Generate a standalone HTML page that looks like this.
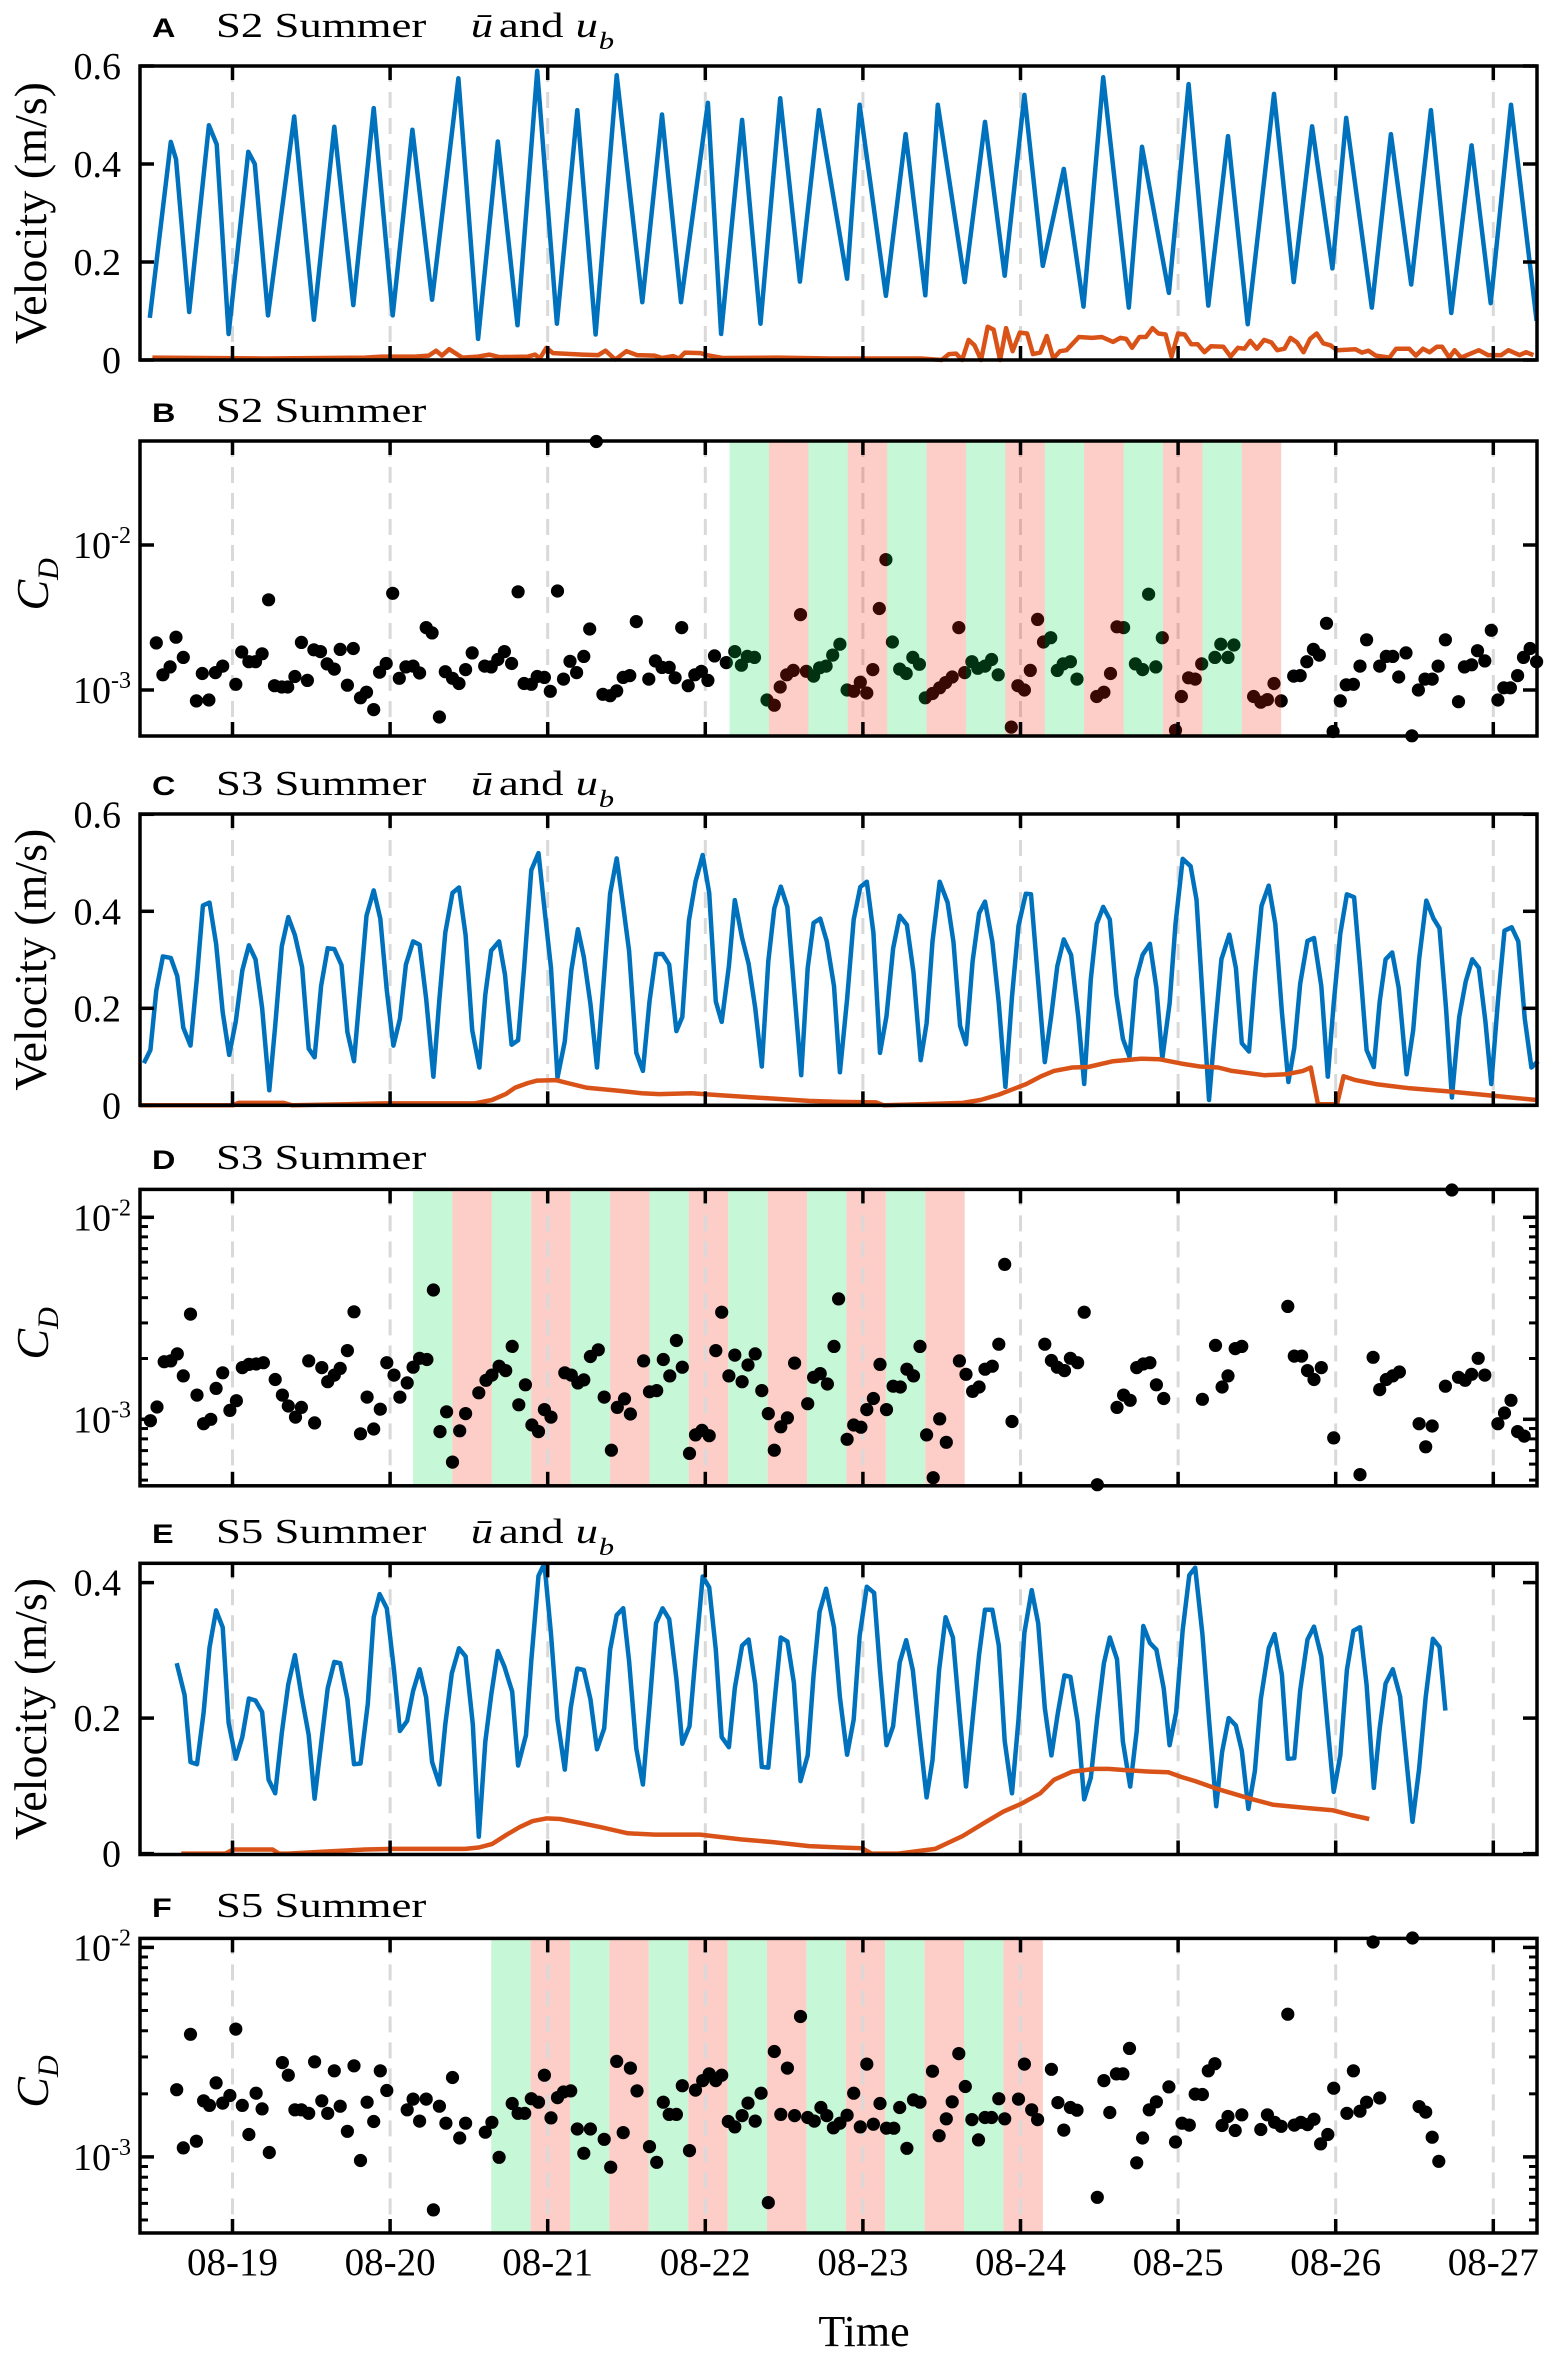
<!DOCTYPE html>
<html><head><meta charset="utf-8"><style>
html,body{margin:0;padding:0;background:#fff;}
svg{display:block;}
</style></head><body>
<svg id="fig" xmlns="http://www.w3.org/2000/svg" width="1546" height="2356" viewBox="0 0 1546 2356" font-family="'Liberation Serif', serif">
<rect x="0" y="0" width="1546" height="2356" fill="#fff"/>
<g id="layer"></g>
</svg>
<script>
// ---------- Panel A: S2 velocities (hours since 08-18 00:00) ----------
const aHours=[11.4,14.6,15.4,17.4,20.4,21.6,23.4,26.4,27.4,29.4,33.4,36.4,39.5,42.4,45.5,48.4,51.4,54.4,58.4,61.4,64.4,67.4,70.4,73.4,76.5,79.3,82.5,86.4,89.4,92.3,96.4,98.4,101.6,104.4,107.4,110.4,113.3,117.6,119.5,123.5,126.5,129.5,131.4,135.5,138.6,141.6,144.6,147.4,150.6,153.6,156.6,160.5,162.5,166.6,169.6,172.6,175.6,178.6,182.6,185.6,188.4,191.5,193.6,197.5,200.4,203.5,206.5,209.6,212.7,215.6,218.7,222.6];
const aSpeed=[.086,.445,.41,.098,.479,.44,.053,.425,.40,.091,.497,.082,.476,.112,.514,.091,.47,.123,.575,.043,.446,.071,.59,.074,.51,.052,.581,.118,.501,.118,.525,.053,.49,.074,.534,.16,.51,.166,.521,.131,.461,.132,.521,.159,.486,.172,.541,.192,.39,.109,.577,.107,.435,.137,.563,.111,.457,.073,.543,.159,.477,.187,.494,.107,.461,.154,.51,.096,.438,.116,.521,.08];
const aUbHours=[11.8,29,44.2,47,51.8,53.9,55,55.9,57,59,61.4,63.1,64.6,69,70.1,70.8,71.8,72.8,77.3,79.7,80.8,82.3,84,85.6,88.3,89.4,91.1,92,92.9,95.3,96.2,98.6,107,115.2,128.9,132,133.1,134.2,135.1,136.1,137,138,139,139.9,140.9,141.8,142.8,143.9,145,145.9,147,148,149,150,151,152.9,154.9,156.4,158.1,159.2,160.1,161,162.1,163.1,164.1,165,166.1,167,168,169,170,171,172,173,174.9,176,177.1,178.1,179,180,181.1,182.2,183.1,184.2,185.1,186.1,187.1,188.1,189.1,190.1,191.2,192.2,195,196,197,198.1,200.2,201.2,203.2,204.2,205.3,206.3,207.4,208.2,209.3,210.1,211.1,213.8,215.2,217.2,218.3,220,221,222.1];
const aUb=[.005,.003,.005,.007,.007,.009,.019,.009,.022,.005,.007,.011,.006,.007,.011,.003,.025,.014,.011,.01,.019,.001,.018,.01,.009,.004,.008,.003,.015,.014,.01,.004,.005,.003,.003,0,.012,.013,0,.041,.03,0,.068,.062,0,.065,.018,.056,.054,.012,.015,.049,.003,.018,.02,.047,.045,.047,.037,.045,.043,.025,.047,.047,.065,.054,.052,.007,.054,.052,.032,.032,.016,.028,.027,.007,.025,.023,.039,.023,.041,.036,.02,.023,.045,.036,.016,.043,.054,.034,.03,.02,.022,.015,.019,.009,.005,.023,.023,.009,.023,.016,.027,.027,.005,.02,.005,.02,.01,.01,.02,.01,.016,.01];
// ---------- Panel B: S2 drag coefficient, log10(CD) ----------
const bHours=[12.4,13.4,14.5,15.4,16.5,18.5,19.4,20.4,21.4,22.5,24.5,25.4,26.5,27.5,28.5,29.5,30.4,31.5,32.4,33.5,34.5,35.4,36.4,37.4,38.4,39.5,40.4,41.5,42.4,43.5,44.4,45.5,46.4,47.4,48.4,49.4,50.4,51.5,52.5,53.5,54.4,55.5,56.4,57.5,58.5,59.5,60.5,62.4,63.4,64.4,65.4,66.5,67.5,68.4,69.5,70.4,71.5,72.4,73.5,74.4,75.4,76.4,77.5,78.4,79.4,80.4,81.5,82.5,83.5,84.5,85.5,87.4,88.4,89.4,90.5,91.4,92.4,93.4,94.4,95.4,96.4,97.4,99.2,100.5,101.5,102.4,103.5,105.4,106.5,107.4,108.4,109.4,110.5,111.4,112.5,113.4,114.4,115.4,116.5,117.6,118.6,119.6,120.6,121.5,122.5,123.5,124.5,125.6,126.6,127.6,128.6,129.5,130.6,131.7,132.6,133.6,134.6,135.5,136.6,137.5,138.6,139.6,140.6,142.6,143.6,144.6,145.5,146.6,147.5,148.6,149.6,150.5,151.6,152.6,155.6,156.7,157.7,158.7,159.7,161.5,162.6,163.5,164.6,165.6,167.6,168.5,169.6,170.6,171.6,173.6,174.5,175.6,176.5,179.5,180.6,181.6,182.6,183.7,185.6,186.6,187.6,188.6,189.5,190.6,191.6,192.7,193.6,194.7,195.7,196.7,198.7,199.7,200.7,201.6,202.7,203.6,204.6,205.6,206.7,207.6,208.7,210.7,211.6,212.7,213.6,214.7,215.7,216.7,217.6,218.6,219.7,220.6,221.6,222.6];
const bCdLog=[-2.675,-2.895,-2.841,-2.636,-2.775,-3.075,-2.886,-3.069,-2.88,-2.835,-2.961,-2.738,-2.805,-2.805,-2.75,-2.378,-2.97,-2.979,-2.979,-2.907,-2.672,-2.934,-2.723,-2.735,-2.82,-2.856,-2.72,-2.967,-2.714,-3.054,-3.015,-3.135,-2.877,-2.817,-2.333,-2.919,-2.841,-2.835,-2.883,-2.57,-2.606,-3.186,-2.874,-2.919,-2.955,-2.859,-2.744,-2.835,-2.841,-2.79,-2.735,-2.817,-2.323,-2.955,-2.961,-2.907,-2.913,-3.009,-2.317,-2.925,-2.802,-2.88,-2.768,-2.579,-1.286,-3.03,-3.039,-3.006,-2.913,-2.901,-2.528,-2.925,-2.799,-2.844,-2.844,-2.916,-2.57,-2.97,-2.895,-2.871,-2.934,-2.765,-2.811,-2.735,-2.829,-2.768,-2.775,-3.069,-3.105,-2.979,-2.895,-2.865,-2.48,-2.871,-2.904,-2.847,-2.835,-2.759,-2.684,-3.0,-3.009,-2.946,-3.021,-2.859,-2.438,-2.101,-2.669,-2.856,-2.886,-2.775,-2.823,-3.054,-3.024,-2.985,-2.949,-2.91,-2.57,-2.88,-2.805,-2.85,-2.835,-2.79,-2.895,-3.256,-2.97,-3.0,-2.865,-2.513,-2.669,-2.639,-2.865,-2.82,-2.805,-2.925,-3.045,-3.015,-2.886,-2.564,-2.57,-2.82,-2.859,-2.339,-2.841,-2.639,-3.277,-3.045,-2.916,-2.925,-2.82,-2.775,-2.684,-2.775,-2.69,-3.045,-3.084,-3.066,-2.955,-3.075,-2.904,-2.901,-2.805,-2.72,-2.759,-2.54,-3.286,-3.075,-2.964,-2.961,-2.835,-2.654,-2.835,-2.768,-2.768,-2.91,-2.744,-3.316,-3.0,-2.925,-2.925,-2.835,-2.654,-3.081,-2.841,-2.826,-2.729,-2.799,-2.588,-3.069,-2.985,-2.985,-2.901,-2.775,-2.714,-2.805];
const bBandStart=99.7;
// ---------- Panel C: S3 velocities ----------
const cHours=[10.5,11.5,12.4,13.4,14.6,15.6,16.5,17.6,18.6,19.5,20.5,21.5,22.5,23.5,24.5,25.5,26.5,27.5,28.5,29.6,30.5,31.5,32.5,33.5,34.6,35.6,36.5,37.5,38.5,39.5,40.6,41.5,42.5,43.5,44.4,45.5,46.5,47.5,48.5,49.5,50.4,51.5,52.5,53.5,54.6,55.5,56.4,57.5,58.5,59.5,60.5,61.6,62.5,63.4,64.6,65.5,66.5,67.5,68.4,69.5,70.6,71.5,72.5,73.5,74.6,75.6,76.6,77.5,78.5,79.5,80.5,81.5,82.5,83.5,84.4,85.5,86.5,87.5,88.5,89.5,90.5,91.6,92.5,93.5,94.5,95.6,96.6,97.6,98.5,99.6,100.5,101.6,102.6,103.6,104.6,105.6,106.5,107.5,108.5,109.6,110.6,111.6,112.5,113.5,114.5,115.6,116.5,117.6,118.6,119.6,120.6,121.6,122.6,123.6,124.6,125.6,126.7,127.7,128.8,129.7,130.6,131.7,132.9,133.8,134.8,135.7,136.7,137.7,138.6,139.7,140.7,141.7,142.7,143.7,144.8,145.6,146.6,147.7,148.7,149.6,150.6,151.7,152.8,153.7,154.7,155.6,156.6,157.6,158.6,159.6,160.6,161.6,162.6,163.7,164.7,165.6,166.7,167.6,168.7,169.9,170.8,171.7,172.7,173.6,174.6,175.8,176.8,177.7,178.8,179.7,180.7,181.8,182.8,183.8,184.8,185.7,186.6,187.7,188.7,189.8,190.8,191.7,192.7,193.7,194.8,195.7,196.7,197.8,198.7,199.6,200.6,201.6,202.8,203.8,204.7,205.8,206.9,207.8,208.8,209.7,210.8,211.8,212.8,213.8,214.8,215.7,216.7,217.7,218.8,219.8,220.8,221.8,222.8];
const cSpeed=[.087,.114,.237,.307,.304,.266,.16,.123,.265,.412,.418,.333,.192,.104,.173,.278,.33,.301,.201,.031,.164,.328,.388,.351,.285,.117,.099,.246,.324,.322,.289,.151,.091,.246,.391,.443,.385,.237,.123,.178,.29,.338,.331,.219,.059,.219,.356,.438,.449,.351,.155,.078,.228,.319,.338,.269,.125,.134,.283,.485,.52,.406,.283,.057,.132,.278,.363,.306,.21,.078,.251,.436,.509,.411,.318,.108,.071,.214,.312,.312,.29,.153,.182,.381,.461,.516,.438,.214,.172,.287,.423,.345,.292,.201,.08,.297,.406,.451,.409,.228,.062,.283,.376,.385,.338,.246,.068,.219,.383,.45,.461,.356,.108,.184,.323,.391,.372,.274,.093,.169,.338,.461,.418,.336,.164,.126,.297,.396,.42,.338,.21,.038,.224,.37,.436,.435,.269,.089,.187,.287,.342,.31,.182,.044,.26,.374,.409,.383,.228,.137,.1,.26,.31,.333,.242,.096,.21,.374,.508,.493,.424,.228,.011,.155,.301,.352,.283,.128,.111,.265,.411,.453,.374,.192,.048,.119,.251,.339,.345,.246,.059,.21,.354,.435,.429,.287,.114,.079,.214,.301,.315,.242,.064,.155,.301,.422,.385,.365,.201,.016,.182,.255,.301,.283,.173,.044,.214,.36,.367,.338,.178,.078,.091];
const cUbHours=[9.8,24.1,24.9,31.8,33.1,41.5,47,60.8,63.5,65.6,67,69,70.4,73.2,75.3,78,82.8,86.3,89,93.9,98,104.9,111.8,116.5,122,123.2,128.9,135.2,137.9,140.7,144.9,147,149.1,151.9,154.3,158.1,162.3,165.1,168.5,171.3,174.1,176.2,181.1,184.5,187,188.2,189.3,192.2,193.2,195,198.4,203.3,208.9,215.8,222.6];
const cUb=[0,0,.005,.005,0,.002,.004,.004,.011,.023,.036,.046,.051,.052,.045,.036,.03,.025,.023,.025,.021,.015,.009,.007,.006,0,.002,.005,.011,.022,.044,.059,.071,.078,.079,.091,.096,.095,.086,.08,.078,.071,.062,.064,.071,.078,.002,.002,.06,.052,.043,.035,.029,.02,.011];
// ---------- Panel D: S3 drag coefficient ----------
const dHours=[11.5,12.5,13.6,14.6,15.6,16.5,17.6,18.6,19.6,20.7,21.5,22.5,23.6,24.6,25.5,26.5,27.6,28.7,30.5,31.6,32.5,33.6,34.5,35.6,36.5,37.6,38.5,39.5,40.4,41.5,42.5,43.5,44.5,45.5,46.5,47.5,48.6,49.5,50.6,51.5,52.5,53.6,54.6,55.6,56.6,57.5,58.6,59.5,61.5,62.6,63.5,64.6,65.6,66.6,67.6,68.6,69.6,70.6,71.5,72.5,74.6,75.6,76.6,77.5,78.5,79.7,80.6,81.7,82.6,83.7,84.6,86.6,87.5,88.6,89.6,90.6,91.6,92.5,93.6,94.5,95.5,96.6,97.6,98.5,99.6,100.5,101.6,102.5,103.6,104.6,105.6,106.5,107.5,108.5,109.6,111.6,112.5,113.5,114.6,115.6,116.3,117.6,118.6,119.7,120.6,121.6,122.6,123.6,124.6,125.7,126.7,127.7,128.7,129.7,130.7,131.7,132.7,134.7,135.7,136.7,137.7,138.6,139.7,140.7,141.6,142.7,147.7,148.7,149.6,150.7,151.6,152.7,153.7,155.7,158.7,159.7,160.7,161.7,162.7,163.7,164.7,165.8,171.7,173.7,174.7,175.6,176.7,177.7,184.7,185.7,186.8,187.7,188.7,189.8,191.7,195.7,197.7,198.7,199.7,200.7,201.7,204.7,205.7,206.7,208.7,209.7,210.7,211.7,212.7,213.7,214.7,216.7,217.7,218.7,219.7,220.7];
const dCdLog=[-3.007,-2.939,-2.715,-2.711,-2.676,-2.785,-2.479,-2.88,-3.022,-3.0,-2.847,-2.77,-2.956,-2.908,-2.744,-2.728,-2.726,-2.72,-2.803,-2.88,-2.934,-2.989,-2.941,-2.711,-3.018,-2.744,-2.814,-2.781,-2.748,-2.66,-2.468,-3.072,-2.89,-3.048,-2.95,-2.72,-2.781,-2.89,-2.82,-2.742,-2.698,-2.704,-2.36,-3.061,-2.963,-3.212,-3.057,-2.972,-2.869,-2.807,-2.781,-2.737,-2.759,-2.639,-2.928,-2.829,-3.028,-3.061,-2.952,-2.989,-2.77,-2.781,-2.82,-2.805,-2.689,-2.656,-2.89,-3.153,-2.941,-2.899,-2.974,-2.711,-2.864,-2.858,-2.704,-2.785,-2.61,-2.742,-3.169,-3.077,-3.055,-3.081,-2.66,-2.47,-2.785,-2.682,-2.814,-2.731,-2.676,-2.858,-2.972,-3.153,-3.037,-2.993,-2.722,-2.923,-2.792,-2.774,-2.825,-2.639,-2.404,-3.099,-3.028,-3.039,-2.952,-2.897,-2.728,-2.952,-2.836,-2.84,-2.752,-2.785,-2.639,-3.077,-3.289,-2.998,-3.114,-2.711,-2.777,-2.862,-2.84,-2.752,-2.737,-2.628,-2.233,-3.011,-2.628,-2.709,-2.742,-2.759,-2.698,-2.72,-2.47,-3.324,-2.941,-2.88,-2.906,-2.744,-2.726,-2.72,-2.829,-2.897,-2.901,-2.634,-2.84,-2.785,-2.65,-2.639,-2.441,-2.687,-2.687,-2.759,-2.803,-2.744,-3.092,-3.274,-2.693,-2.853,-2.803,-2.785,-2.766,-3.022,-3.136,-3.033,-2.836,-1.865,-2.792,-2.807,-2.777,-2.698,-2.781,-3.022,-2.969,-2.906,-3.061,-3.083];
const dBandStart=51.5;
// ---------- Panel E: S5 velocities ----------
const eHours=[15.5,16.7,17.6,18.6,19.6,20.5,21.5,22.5,23.4,24.5,25.5,26.5,27.5,28.5,29.5,30.5,31.5,32.5,33.5,34.5,35.6,36.5,37.5,38.5,39.5,40.4,41.5,42.5,43.5,44.6,45.5,46.4,47.5,48.6,49.5,50.6,51.5,52.5,53.5,54.4,55.5,56.4,57.4,58.5,59.5,60.6,61.5,62.5,63.4,64.4,65.4,66.6,67.5,68.7,69.5,70.6,71.5,72.5,73.5,74.6,75.5,76.5,77.5,78.5,79.5,80.6,81.5,82.5,83.5,84.4,85.5,86.5,87.5,88.5,89.5,90.5,91.6,92.5,93.6,94.5,95.6,96.6,97.6,98.5,99.6,100.5,101.6,102.6,103.6,104.6,105.6,106.5,107.5,108.5,109.5,110.5,111.6,112.5,113.4,114.4,115.6,116.5,117.6,118.6,119.5,120.6,121.7,122.6,123.6,124.6,125.6,126.6,127.6,128.6,129.7,130.6,131.6,132.6,133.7,134.7,135.7,136.7,137.7,138.6,139.7,140.7,141.6,142.7,143.7,144.6,145.7,146.7,147.7,148.7,149.7,150.7,151.6,152.7,153.7,154.7,155.7,156.7,157.6,158.7,159.6,160.7,161.7,162.7,163.7,164.7,165.8,166.7,167.7,168.7,169.7,170.6,171.7,172.7,173.8,174.7,175.7,176.8,177.7,178.7,179.7,180.6,181.8,182.7,183.8,184.7,185.7,186.6,187.7,188.7,189.8,190.8,191.7,192.7,193.7,194.7,195.7,196.7,197.8,198.7,199.6,200.7,201.8,202.8,203.7,204.7,205.7,206.8,207.8,208.7];
const eSpeed=[.281,.234,.135,.132,.208,.304,.359,.334,.193,.14,.172,.229,.226,.209,.109,.089,.178,.25,.293,.234,.175,.081,.162,.244,.283,.281,.228,.132,.133,.221,.349,.383,.362,.271,.181,.196,.24,.272,.23,.135,.102,.191,.266,.303,.291,.191,.025,.165,.234,.299,.276,.239,.13,.175,.285,.41,.428,.324,.198,.124,.215,.273,.271,.228,.154,.185,.301,.352,.362,.284,.155,.102,.218,.34,.362,.346,.258,.162,.188,.291,.409,.393,.301,.172,.157,.244,.307,.316,.25,.128,.127,.221,.319,.313,.252,.107,.145,.264,.357,.391,.334,.231,.146,.198,.321,.394,.385,.271,.16,.188,.282,.315,.271,.178,.083,.138,.271,.349,.319,.208,.099,.198,.294,.36,.36,.307,.166,.089,.198,.326,.389,.34,.215,.145,.208,.263,.261,.195,.08,.112,.201,.281,.319,.287,.165,.099,.181,.336,.311,.301,.244,.16,.208,.33,.411,.422,.324,.198,.07,.15,.2,.189,.152,.066,.122,.228,.303,.324,.264,.14,.141,.241,.316,.335,.291,.185,.091,.145,.271,.329,.334,.249,.097,.185,.251,.272,.232,.135,.047,.125,.231,.317,.305,.211];
const eUbHours=[16.2,22.9,24.1,30.1,31.1,32.5,38,44.2,48.4,52.5,59.4,61.5,63.5,65.6,67.7,69.7,71.8,73.9,76.6,80.1,84.2,88.3,91.1,95.2,101.4,106.3,111.8,116.5,119.9,121.3,125.4,131,135.2,138.6,141.4,144.2,147,149.1,151.9,155.3,157.4,160.2,163.7,166.5,168.5,170.6,174.1,179,182.5,188,191.5,194.3,197.1];
const eUb=[0,0,.006,.006,0,0,.003,.006,.007,.007,.007,.009,.014,.027,.039,.048,.052,.051,.046,.039,.03,.028,.028,.028,.021,.017,.011,.009,.008,0,0,.007,.026,.046,.062,.074,.089,.109,.121,.125,.125,.123,.121,.12,.113,.107,.095,.081,.072,.067,.064,.057,.051];
// ---------- Panel F: S5 drag coefficient ----------
const fHours=[15.5,16.5,17.6,18.5,19.6,20.5,21.5,22.5,23.6,24.5,25.5,26.5,27.6,28.5,29.6,31.6,32.5,33.5,34.5,35.6,36.5,37.6,38.5,39.5,40.4,41.5,42.5,43.5,44.5,45.5,46.5,47.5,50.6,51.5,52.5,53.5,54.6,55.5,56.5,57.5,58.6,59.5,62.5,63.5,64.6,66.6,67.5,68.5,69.5,70.6,71.5,72.5,73.5,74.4,75.5,76.5,77.5,78.5,80.6,81.6,82.5,83.5,84.6,85.6,87.5,88.6,89.6,90.5,91.6,92.5,93.6,94.5,95.6,96.6,97.6,98.5,99.5,100.5,101.6,102.5,103.6,104.5,105.6,106.5,107.5,108.5,109.6,110.5,111.6,112.6,113.6,114.5,115.5,116.5,117.6,118.6,119.6,120.6,121.6,122.6,123.6,124.7,125.6,126.7,127.7,128.7,130.6,131.6,132.7,133.6,134.6,135.6,136.6,137.6,138.6,139.6,140.7,141.6,143.7,144.6,145.7,146.6,148.7,149.7,150.6,151.6,152.6,155.7,156.7,157.6,158.6,159.6,160.6,161.7,162.6,163.6,164.7,166.6,167.6,168.6,169.7,170.6,171.7,172.6,173.6,174.7,175.6,176.7,177.7,180.6,181.6,182.7,183.7,184.7,185.7,186.7,187.7,188.7,189.7,190.8,191.7,193.7,194.7,195.7,196.7,197.7,198.7,203.7,204.7,205.7,206.7,207.7];
const fCdLog=[-2.679,-2.957,-2.415,-2.925,-2.732,-2.754,-2.647,-2.743,-2.707,-2.39,-2.754,-2.893,-2.696,-2.771,-2.979,-2.55,-2.61,-2.775,-2.775,-2.792,-2.546,-2.732,-2.792,-2.589,-2.758,-2.878,-2.565,-3.017,-2.739,-2.831,-2.589,-2.683,-2.775,-2.724,-2.829,-2.724,-3.253,-2.758,-2.839,-2.621,-2.91,-2.839,-2.882,-2.835,-3.002,-2.745,-2.792,-2.792,-2.722,-2.739,-2.61,-2.814,-2.717,-2.69,-2.685,-2.867,-2.983,-2.867,-2.916,-3.049,-2.544,-2.884,-2.576,-2.685,-2.951,-3.026,-2.739,-2.797,-2.797,-2.66,-2.97,-2.681,-2.636,-2.604,-2.636,-2.61,-2.831,-2.857,-2.803,-2.743,-2.829,-2.696,-3.218,-2.497,-2.797,-2.576,-2.803,-2.33,-2.812,-2.829,-2.764,-2.803,-2.861,-2.839,-2.801,-2.696,-2.857,-2.557,-2.844,-2.745,-2.863,-2.863,-2.764,-2.959,-2.728,-2.739,-2.591,-2.899,-2.818,-2.737,-2.507,-2.664,-2.822,-2.919,-2.812,-2.812,-2.722,-2.818,-2.724,-2.557,-2.775,-2.822,-2.582,-2.741,-2.872,-2.764,-2.777,-3.193,-2.636,-2.788,-2.604,-2.604,-2.482,-3.028,-2.91,-2.775,-2.737,-2.666,-2.929,-2.839,-2.848,-2.7,-2.702,-2.589,-2.555,-2.85,-2.807,-2.874,-2.799,-2.869,-2.799,-2.835,-2.854,-2.319,-2.848,-2.835,-2.846,-2.82,-2.938,-2.893,-2.672,-2.792,-2.589,-2.782,-2.739,-1.974,-2.719,-1.955,-2.76,-2.786,-2.906,-3.021];
const fBandStart=63.4;
// ---------- axes / ticks ----------
const dayTicks=[19,20,21,22,23,24,25,26,27];
const dayLabels=["08-19","08-20","08-21","08-22","08-23","08-24","08-25","08-26","08-27"];
const velTicksAC=[0,0.2,0.4,0.6];
const velTicksE=[0,0.2,0.4];
const logMajors=[-2,-3];

const NS="http://www.w3.org/2000/svg";
const layer=document.getElementById('layer');
const X0=140,X1=1537;
function xs(h){return 232.5+(h-24)*157.6/24;}
function mk(tag,attrs,parent){const e=document.createElementNS(NS,tag);for(const k in attrs)e.setAttribute(k,attrs[k]);(parent||layer).appendChild(e);return e;}
function linY(y0,ppu){return v=>y0-v*ppu;}
function logY(ym2,dec){return L=>ym2+(-2-L)*dec;}

const panels=[
 {id:'a',top:66,bot:360,kind:'vel',ys:linY(360,490),ticks:velTicksAC,letter:'A',site:'S2 Summer',tb:37},
 {id:'b',top:441,bot:736,kind:'cd',ys:logY(545,145),letter:'B',site:'S2 Summer',tb:422,minor:false,overlay:true,band:bBandStart,h:bHours,c:bCdLog},
 {id:'c',top:814,bot:1105.3,kind:'vel',ys:linY(1105.3,485),ticks:velTicksAC,letter:'C',site:'S3 Summer',tb:795},
 {id:'d',top:1189.4,bot:1485.8,kind:'cd',ys:logY(1217.3,202),letter:'D',site:'S3 Summer',tb:1169,minor:true,overlay:false,band:dBandStart,h:dHours,c:dCdLog},
 {id:'e',top:1563.3,bot:1854.5,kind:'vel',ys:linY(1853.6,677.5),ticks:velTicksE,letter:'E',site:'S5 Summer',tb:1543},
 {id:'f',top:1938.4,bot:2233,kind:'cd',ys:logY(1947.4,209.5),letter:'F',site:'S5 Summer',tb:1917,minor:true,overlay:false,band:fBandStart,h:fHours,c:fCdLog}
];
const velData={a:[aHours,aSpeed,aUbHours,aUb],c:[cHours,cSpeed,cUbHours,cUb],e:[eHours,eSpeed,eUbHours,eUb]};

function linePath(hs,vs,ys){let d='';const n=Math.min(hs.length,vs.length);for(let i=0;i<n;i++){d+=(i?'L':'M')+xs(hs[i]).toFixed(1)+','+ys(vs[i]).toFixed(1);}return d;}

function drawBands(p,g){
  for(let i=0;i<14;i++){
    const x0=xs(p.band+i*6),x1=xs(p.band+(i+1)*6);
    const green=i%2===0;
    const r=mk('rect',{x:x0,y:p.top,width:x1-x0,height:p.bot-p.top},g);
    if(p.overlay){r.setAttribute('fill',green?'rgb(4,220,75)':'rgb(247,35,9)');r.setAttribute('fill-opacity','0.227');}
    else r.setAttribute('fill',green?'#c6f7d6':'#fdcdc7');
    
    
  }
}

panels.forEach(p=>{
  const g=mk('g',{});
  
  
  if(p.kind==='cd'&&!p.overlay) drawBands(p,g);
  dayTicks.forEach(d=>{
    const x=xs((d-18)*24);
    const l=mk('line',{x1:x,x2:x,y1:p.top,y2:p.bot,stroke:'#d9d9d9','stroke-width':3,'stroke-dasharray':'16 10'},g);
    
    
  });
  if(p.kind==='vel'){
    const [h,v,uh,u]=velData[p.id];
    const bl=mk('path',{d:linePath(h,v,p.ys),fill:'none',stroke:'#0072BD','stroke-width':4.5,'stroke-linejoin':'round'},g);
    
    
    const ol=mk('path',{d:linePath(uh,u,p.ys),fill:'none',stroke:'#D95319','stroke-width':4.5,'stroke-linejoin':'round'},g);
    
    
  } else {
    const n=Math.min(p.h.length,p.c.length);
    for(let i=0;i<n;i++){
      const c=mk('circle',{cx:xs(p.h[i]).toFixed(1),cy:p.ys(p.c[i]).toFixed(1),r:6.6,fill:'#000'},g);
      
      
    }
    if(p.overlay) drawBands(p,g);
  }
  const fr=mk('rect',{x:X0,y:p.top,width:X1-X0,height:p.bot-p.top,fill:'none',stroke:'#000','stroke-width':3.5},g);
  
  
  dayTicks.forEach(d=>{
    const x=xs((d-18)*24);
    const t1=mk('line',{x1:x,x2:x,y1:p.top,y2:p.top+14,stroke:'#000','stroke-width':3.5},g);
    
    
    const t2=mk('line',{x1:x,x2:x,y1:p.bot,y2:p.bot-14,stroke:'#000','stroke-width':3.5},g);
    
    
  });
  if(p.kind==='vel'){
    p.ticks.forEach(v=>{
      const y=p.ys(v);
      const t=mk('line',{x1:X0,x2:X0+14,y1:y,y2:y,stroke:'#000','stroke-width':3.5},g);
      
      
      const t2=mk('line',{x1:X1,x2:X1-14,y1:y,y2:y,stroke:'#000','stroke-width':3.5},g);
      
      
      const lb=mk('text',{x:121,y:y+13,'text-anchor':'end','font-size':38},g);
      lb.textContent=(v===0?'0':String(v));
      
      
    });
    const yl=mk('text',{x:0,y:0,'text-anchor':'middle','font-size':46,transform:`translate(46,${(p.top+p.bot)/2}) rotate(-90)`},g);
    yl.textContent='Velocity (m/s)';
    
    
  } else {
    logMajors.forEach(L=>{
      const y=p.ys(L);
      const t=mk('line',{x1:X0,x2:X0+14,y1:y,y2:y,stroke:'#000','stroke-width':3.5},g);
      
      
      const t2=mk('line',{x1:X1,x2:X1-14,y1:y,y2:y,stroke:'#000','stroke-width':3.5},g);
      
      
      const lb=mk('text',{x:111,y:y+13,'text-anchor':'end','font-size':38},g);
      lb.textContent='10';
      
      
      const ex=mk('text',{x:111,y:y-2,'font-size':24},g);
      ex.textContent=String(L);
      
      
    });
    if(p.minor){
      for(let e=-4;e<=-1;e++){for(let m=2;m<=9;m++){
        const L=e+Math.log10(m);const y=p.ys(L);
        if(y<p.top+2||y>p.bot-2)continue;
        const t=mk('line',{x1:X0,x2:X0+8,y1:y,y2:y,stroke:'#000','stroke-width':3},g);
        
        
        const t2=mk('line',{x1:X1,x2:X1-8,y1:y,y2:y,stroke:'#000','stroke-width':3},g);
        
        
      }}
    }
    const yl=mk('text',{x:0,y:0,'font-size':46,'font-style':'italic',transform:`translate(48,${(p.top+p.bot)/2+22}) rotate(-90)`},g);
    
    
    const t1=mk('tspan',{},yl);t1.textContent='C';
    const t2=mk('tspan',{'font-size':30,dy:10},yl);t2.textContent='D';
  }
  const lt=mk('text',{x:0,y:0,'font-family':"'Liberation Sans', sans-serif",'font-weight':'bold','font-size':27,transform:`translate(152,${p.tb}) scale(1.2,1)`},g);
  lt.textContent=p.letter;
  
  
  const tg=mk('g',{transform:`translate(216,${p.tb}) scale(1.28,1)`},g);
  
  
  const tt=mk('text',{x:0,y:0,'font-size':35},tg);
  tt.textContent=p.site;
  if(p.kind==='vel'){
    const u1=mk('text',{x:199,y:0,'font-size':35,'font-style':'italic'},tg);u1.textContent='ū';
    const an=mk('text',{x:221,y:0,'font-size':35},tg);an.textContent='and';
    const u2=mk('text',{x:281,y:0,'font-size':35,'font-style':'italic'},tg);u2.textContent='u';
    const sb=mk('text',{x:299,y:12,'font-size':24,'font-style':'italic'},tg);sb.textContent='b';
  }
});
dayTicks.forEach((d,i)=>{
  const t=mk('text',{x:xs((d-18)*24),y:2275,'text-anchor':'middle','font-size':39});
  t.textContent=dayLabels[i];
  
  
});
const xt=mk('text',{x:864,y:2346,'text-anchor':'middle','font-size':44});
xt.textContent='Time';


</script>
</body></html>
